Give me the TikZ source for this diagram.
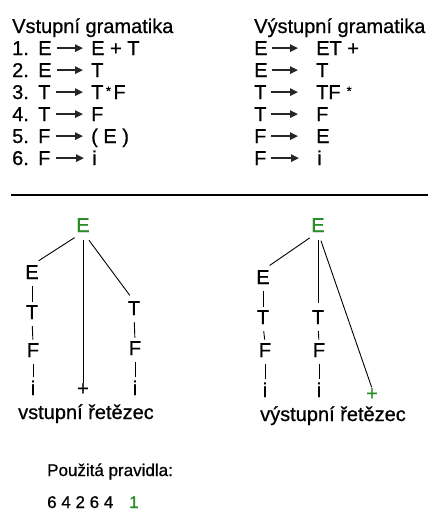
\documentclass[tikz,border=0pt]{standalone}
\usepackage{fontspec}
\setmainfont{Liberation Sans}[FakeBold=0.7]
\usetikzlibrary{arrows.meta}
\definecolor{tgreen}{RGB}{40,140,40}
\newcommand{\smallast}{{\fontsize{13}{13}\selectfont\raisebox{3.5pt}{*}}}
\begin{document}
\begin{tikzpicture}[x=1pt,y=-1pt,
  txt/.style={inner sep=0pt, anchor=base west, font=\fontsize{20}{24}\selectfont\addfontfeature{FakeBold=0.7}},
  small/.style={inner sep=0pt, anchor=base west, font=\fontsize{17}{20}\selectfont\addfontfeature{FakeBold=0.7}},
  sym/.style={inner sep=0pt, anchor=base, font=\fontsize{20}{24}\selectfont\addfontfeature{FakeBold=0.7}},
  prod/.style={draw=black!85, line width=1.3pt, -{Triangle[length=8pt,width=7.5pt]}},
  edge/.style={draw, line width=0.9pt},
  chain/.style={draw, line width=0.9pt, shorten <=7pt, shorten >=3.5pt},
]
\fill[white] (0,0) rectangle (432,517);
\useasboundingbox (0,0) rectangle (432,517);

% ---------- input grammar ----------
\node[txt] (tl) at (12,33) {Vstupní gramatika};
\node[txt] (n1) at (12,55) {1.};  \node[txt] (l1) at (38,55) {E};  \node[txt] (r1) at (91,55) {E + T};
\node[txt] (n2) at (12,77) {2.};  \node[txt] (l2) at (38,77) {E};  \node[txt] (r2) at (91,77) {T};
\node[txt] (n3) at (12,99) {3.};  \node[txt] (l3) at (38,99) {T};  \node[txt] (r3) at (91,99) {T\kern2.5pt\smallast\kern2.5pt F};
\node[txt] (n4) at (12,121) {4.}; \node[txt] (l4) at (38,121) {T}; \node[txt] (r4) at (91,121) {F};
\node[txt] (n5) at (12,143) {5.}; \node[txt] (l5) at (38,143) {F}; \node[txt] (r5) at (91,143) {( E )};
\node[txt] (n6) at (12,165) {6.}; \node[txt] (l6) at (38,165) {F}; \node[txt] (r6) at (92,165) {i};
\foreach \k in {1,...,6}{
  \draw[prod, shorten <=5pt, shorten >=8pt] (l\k.east) -- (l\k.east -| r\k.west);
}

% ---------- output grammar ----------
\node[txt] (tr) at (254,33) {Výstupní gramatika};
\node[txt] (L1) at (254,55) {E};  \node[txt] (R1) at (316,55) {ET +};
\node[txt] (L2) at (254,77) {E};  \node[txt] (R2) at (316,77) {T};
\node[txt] (L3) at (254,99) {T};  \node[txt] (R3) at (316,99) {TF\kern6pt\smallast};
\node[txt] (L4) at (254,121) {T}; \node[txt] (R4) at (316,121) {F};
\node[txt] (L5) at (254,143) {F}; \node[txt] (R5) at (316,143) {E};
\node[txt] (L6) at (254,165) {F}; \node[txt] (R6) at (317,165) {i};
\foreach \k in {1,...,6}{
  \draw[prod, shorten <=4pt, shorten >=18pt] (L\k.east) -- (L\k.east -| R\k.west);
}

% ---------- separator ----------
\draw[line width=2.6pt] (11,195) -- (428,195);

% ---------- input tree ----------
\node[sym, text=tgreen] (rootL) at (83,232) {E};
\node[sym] (lE) at (32,279) {E};
\node[sym] (lT) at (32,319) {T};
\node[sym] (lF) at (33,357) {F};
\node[sym] (li) at (33,395) {i};
\node[sym] (lplus) at (83,395) {+};
\node[sym] (rT) at (134,315) {T};
\node[sym] (rF) at (135,355) {F};
\node[sym] (ri) at (135,395) {i};
\draw[edge, shorten <=10pt, shorten >=8pt] (rootL.south) -- (lE.north);
\draw[edge, shorten <=8pt] (rootL.south) -- (lplus.north);
\draw[edge, shorten <=10pt, shorten >=7pt] (rootL.south) -- (rT.north);
\draw[chain] (lE.south) -- (lT.north);
\draw[chain] (lT.south) -- (lF.north);
\draw[chain] (lF.south) -- (li.north);
\draw[chain] (rT.south) -- (rF.north);
\draw[chain] (rF.south) -- (ri.north);
\node[txt] (inlab) at (18,419) {vstupní řetězec};

% ---------- output tree ----------
\node[sym, text=tgreen] (rootR) at (318,232) {E};
\node[sym] (RE) at (263,284) {E};
\node[sym] (RT) at (263,324) {T};
\node[sym] (RF) at (265,357) {F};
\node[sym] (Ri) at (265,397) {i};
\node[sym] (MT) at (318,324) {T};
\node[sym] (MF) at (319,357) {F};
\node[sym] (Mi) at (319,397) {i};
\node[sym, text=tgreen] (Rplus) at (372,400) {+};
\draw[edge, shorten <=10pt, shorten >=8pt] (rootR.south) -- (RE.north);
\draw[edge, shorten <=8pt, shorten >=7pt] (rootR.south) -- (MT.north);
\draw[edge, shorten <=9pt, shorten >=1pt] (rootR.south) -- (Rplus.north);
\draw[chain] (RE.south) -- (RT.north);
\draw[chain] (RT.south) -- (RF.north);
\draw[chain] (RF.south) -- (Ri.north);
\draw[chain] (MT.south) -- (MF.north);
\draw[chain] (MF.south) -- (Mi.north);
\node[txt] (outlab) at (260,421) {výstupní řetězec};

% ---------- used rules ----------
\node[small] (pp) at (47,476) {Použitá pravidla:};
\node[small] (dg) at (47,508) {6 4 2 6 4};
\node[small, text=tgreen] (d1) at (129,508) {1};
\end{tikzpicture}
\end{document}
